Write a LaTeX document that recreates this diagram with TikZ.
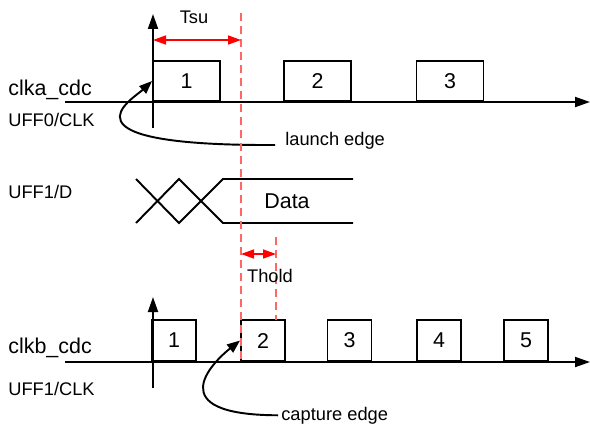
\documentclass[tikz,border=0pt]{standalone}
\usepackage{fontspec}
\setmainfont{Liberation Sans}
\usetikzlibrary{arrows.meta,positioning}

\begin{document}
\begin{tikzpicture}[
   x=0.02cm,y=-0.02cm,
   every node/.style={font=\fontsize{12.2}{14}\selectfont,inner sep=0pt},
   small/.style={font=\fontsize{10.4}{12}\selectfont},
   pulse/.style={draw,line width=1.1pt,anchor=south,minimum height=0.8cm,
                 minimum width=1.34cm},
   pulseb/.style={pulse,minimum height=0.82cm,minimum width=0.88cm},
   axis/.style={line width=1.1pt,-{Triangle[length=0.3cm,width=0.2cm]}},
   wave/.style={line width=1.1pt},
   guide/.style={red!60,line width=1pt,dash pattern=on 0.16cm off 0.1cm},
   tarr/.style={{Triangle[length=0.26cm,width=0.18cm]}-{Triangle[length=0.26cm,width=0.18cm]},
                red,line width=0.9pt},
   curv/.style={-{Triangle[length=0.26cm,width=0.2cm]},line width=1.1pt}
]
\useasboundingbox (0,0) rectangle (590,423);

% Signal names
\node[anchor=base west] (CLKA) at (8,95) {clka\_cdc};
\node[small,anchor=base west] (UFF0) at (8,126) {UFF0/CLK};
\node[small,anchor=base west] (UFFD) at (8,198) {UFF1/D};
\node[anchor=base west] (CLKB) at (8,353) {clkb\_cdc};
\node[small,anchor=base west] (UFFC) at (8,395) {UFF1/CLK};

% clka_cdc waveform
\coordinate (AL) at (65,102);
\coordinate (AR) at (590,102);
\draw[axis] (AL) -- (AR);
\draw[axis] (153,128) -- (153,14);
\node[pulse] (PA1) at (186.5,102) {1};
\node[pulse] (PA2) at (317.5,102) {2};
\node[pulse] (PA3) at (450,102) {3};

% UFF1/D data
\draw[wave] (136,179) -- (179,223) -- (223,179) -- (353,179);
\draw[wave] (136,223) -- (179,179) -- (223,223) -- (353,223);
\node (DATA) at (287,201) {Data};

% clkb_cdc waveform
\coordinate (BL) at (65,362);
\coordinate (BR) at (590,362);
\draw[axis] (BL) -- (BR);
\draw[axis] (153,388) -- (153,297);
\node[pulseb] (PB1) at (174,362) {1};
\node[pulseb] (PB2) at (263,362) {2};
\node[pulseb] (PB3) at (349.5,362) {3};
\node[pulseb] (PB4) at (439,362) {4};
\node[pulseb] (PB5) at (526,362) {5};

% launch / capture edges
\node[small,anchor=base west,inner xsep=0.2cm] (LE) at (275,145) {launch edge};
\node[small,anchor=base west,inner xsep=0.06cm] (CE) at (278,420) {capture edge};
\draw[curv] (LE.base west) .. controls (50,146) and (133,99) .. (PA1.west);
\draw[curv] (CE.west) .. controls (159,415) and (213,362) .. (PB2.west);

% setup and hold windows
\coordinate (SU) at (241,13);
\coordinate (SD) at (241,362);
\coordinate (HU) at (276,237);
\coordinate (HD) at (276,320);
\draw[guide] (SU) -- (SD);
\draw[guide] (HU) -- (HD);
\draw[tarr] (153,40) -- (241,40);
\draw[tarr] (241,254) -- (276,254);
\node[small,anchor=base] (TSU) at (194,23) {Tsu};
\node[small,anchor=base] (THOLD) at (270,282) {Thold};

\end{tikzpicture}
\end{document}
